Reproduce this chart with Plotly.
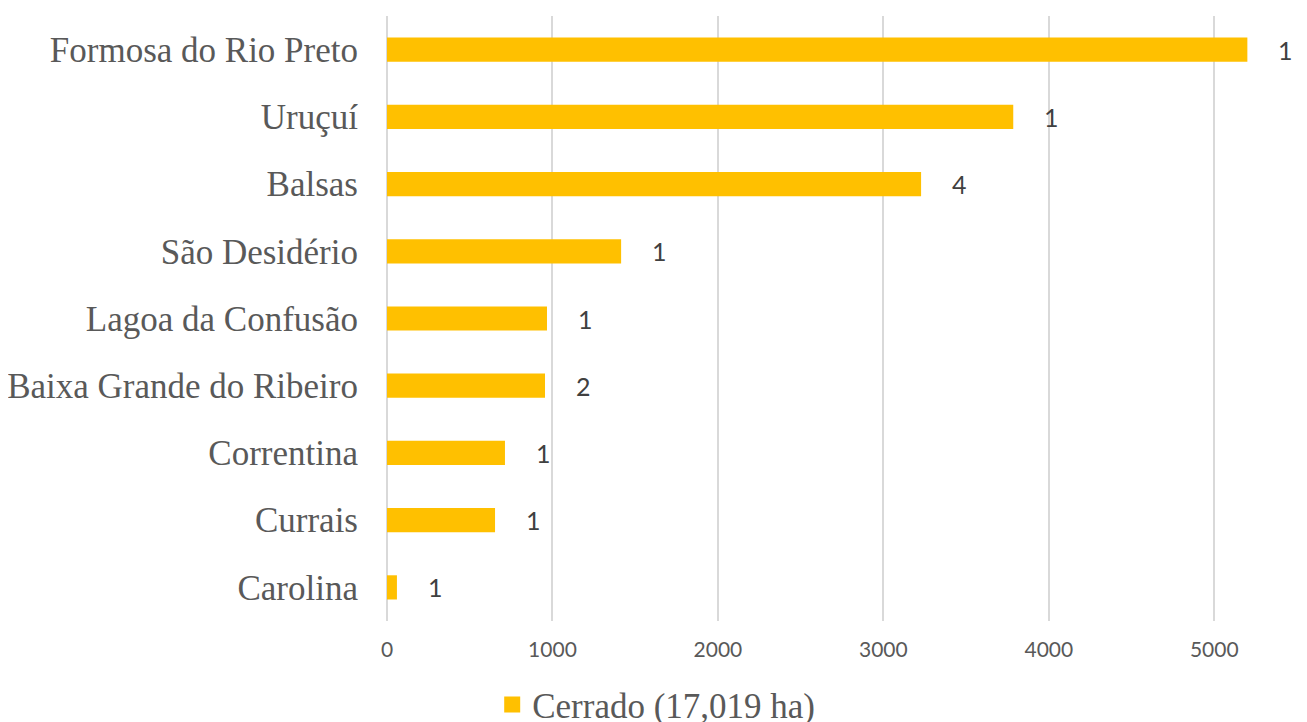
import plotly.graph_objects as go

categories = ["Formosa do Rio Preto", "Uruçuí", "Balsas", "São Desidério",
              "Lagoa da Confusão", "Baixa Grande do Ribeiro", "Correntina",
              "Currais", "Carolina"]
area_ha = [5200, 3785, 3228, 1415, 967, 955, 713, 653, 60]
counts = [1, 1, 4, 1, 1, 2, 1, 1, 1]
series_name = "Cerrado (17,019 ha)"
x_ticks = [0, 1000, 2000, 3000, 4000, 5000]

BAR = "#FFC000"
SERIF = "Liberation Serif, Georgia, serif"
SANS = "Lato, Calibri, sans-serif"

fig = go.Figure()
fig.add_trace(go.Bar(
    y=categories, x=area_ha, orientation="h",
    marker=dict(color=BAR, line=dict(width=0)),
    width=0.36, showlegend=False, hoverinfo="x+y",
))
# legend entry with a larger square swatch
fig.add_trace(go.Scatter(
    x=[None], y=[None], mode="markers", name=series_name,
    marker=dict(symbol="square", size=18, color=BAR),
))

for cat, v, c in zip(categories, area_ha, counts):
    fig.add_annotation(
        x=v, y=cat, xref="x", yref="y", text=str(c), showarrow=False,
        xanchor="left", xshift=29,
        font=dict(family=SANS, size=25, color="#404040"),
    )

# page body has an 8px default margin, so the figure is sized to fit
fig.update_layout(
    width=1299, height=714,
    margin=dict(l=379, r=10, t=8, b=101, autoexpand=False),
    plot_bgcolor="white", paper_bgcolor="white",
    bargap=0.64,
    showlegend=True,
    legend=dict(
        orientation="h", xref="container", yref="container",
        x=0.499, xanchor="center", y=0.024, yanchor="middle",
        font=dict(family=SERIF, size=35, color="#595959"),
        itemwidth=30,
    ),
)
fig.update_xaxes(
    range=[0, 5500], tickvals=x_ticks, ticktext=[str(t) for t in x_ticks],
    showgrid=True, gridcolor="#D9D9D9", gridwidth=2,
    zeroline=True, zerolinecolor="#D9D9D9", zerolinewidth=2,
    showline=False, ticks="",
    tickfont=dict(family=SANS, size=21, color="#595959"),
    ticklabelstandoff=14,
)
fig.update_yaxes(
    categoryorder="array", categoryarray=categories, autorange="reversed",
    showgrid=False, zeroline=False, showline=False, ticks="",
    tickfont=dict(family=SERIF, size=35, color="#595959"),
    ticklabelstandoff=28,
)

fig.write_html("out.html")
